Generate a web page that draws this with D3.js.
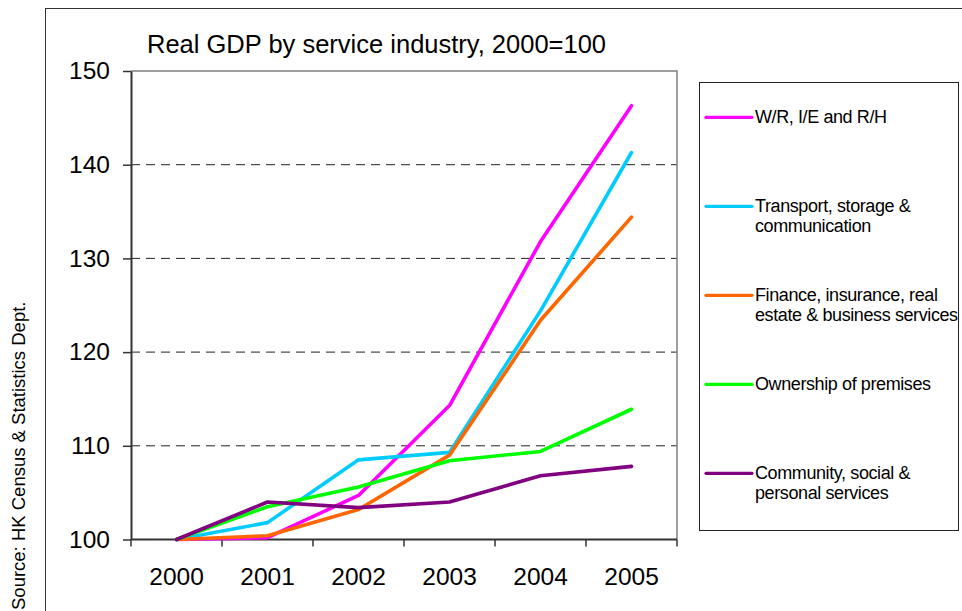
<!DOCTYPE html>
<html>
<head>
<meta charset="utf-8">
<script src="https://cdn.jsdelivr.net/npm/d3@7"></script>
<style>
  html, body { margin: 0; padding: 0; background: #fff; }
  svg { display: block; font-family: "Liberation Sans", Arial, sans-serif; }
</style>
</head>
<body>
<svg id="chart" width="962" height="611"></svg>
<script>
// Real GDP index by service industry, 2000 = 100
const years = ["2000", "2001", "2002", "2003", "2004", "2005"];
const seriesNames = [
  ["W/R, I/E and R/H"],
  ["Transport, storage &", "communication"],
  ["Finance, insurance, real", "estate & business services"],
  ["Ownership of premises"],
  ["Community, social &", "personal services"]
];
const wrIeRh      = [100, 100.2, 104.7, 114.3, 131.8, 146.3];
const transport   = [100, 101.8, 108.5, 109.3, 124.4, 141.3];
const finance     = [100, 100.4, 103.2, 109.0, 123.4, 134.4];
const ownership   = [100, 103.5, 105.6, 108.4, 109.4, 113.9];
const community   = [100, 104.0, 103.4, 104.0, 106.8, 107.8];
const seriesValues = [wrIeRh, transport, finance, ownership, community];
const seriesColors = ["#ff00ff", "#00ccff", "#ff6600", "#00ff00", "#800080"];
const yTicks = [100, 110, 120, 130, 140, 150];
const gridValues = [110, 120, 130, 140];

const svg = d3.select("#chart");
const plot = { left: 131, right: 677, top: 71, bottom: 539.5 };

// outer frame
svg.append("rect")
  .attr("x", 45.5).attr("y", 8.5)
  .attr("width", 1000).attr("height", 700)
  .attr("fill", "none").attr("stroke", "#333").attr("stroke-width", 1);

const x = d3.scaleBand().domain(years).range([plot.left, plot.right]).padding(0);
const y = d3.scaleLinear().domain([100, 150]).range([plot.bottom, plot.top]);

// gridlines
svg.append("g").selectAll("line").data(gridValues).join("line")
  .attr("x1", plot.left).attr("x2", plot.right)
  .attr("y1", d => y(d)).attr("y2", d => y(d))
  .attr("stroke", "#222").attr("stroke-width", 1)
  .attr("stroke-dasharray", "9,6");

// plot area top and right border
svg.append("path")
  .attr("d", `M${plot.left},${y(150)}H${plot.right}V${plot.bottom}`)
  .attr("fill", "none").attr("stroke", "#808080").attr("stroke-width", 1.5);

// y axis
const yAxis = svg.append("g")
  .attr("transform", `translate(${plot.left},0)`)
  .call(d3.axisLeft(y).tickValues(yTicks).tickSize(8).tickPadding(13).tickSizeOuter(0));
yAxis.select(".domain").attr("stroke", "#333").attr("stroke-width", 2);
yAxis.selectAll(".tick line").attr("stroke", "#333").attr("stroke-width", 1.5);
yAxis.selectAll("text").attr("font-size", "24.5px").attr("fill", "#000")
  .attr("font-family", "Liberation Sans, Arial, sans-serif");

// x axis labels
const xAxis = svg.append("g")
  .attr("transform", `translate(0,${plot.bottom})`)
  .call(d3.axisBottom(x).tickSize(0).tickPadding(28).tickSizeOuter(0));
xAxis.select(".domain").remove();
xAxis.selectAll("text").attr("font-size", "24.5px").attr("fill", "#000")
  .attr("font-family", "Liberation Sans, Arial, sans-serif");

// x axis line and category boundary ticks
svg.append("line")
  .attr("x1", plot.left).attr("x2", plot.right)
  .attr("y1", plot.bottom).attr("y2", plot.bottom)
  .attr("stroke", "#333").attr("stroke-width", 2);
const boundaries = years.map(d => x(d)).concat([x.range()[1]]);
svg.append("g").selectAll("line").data(boundaries).join("line")
  .attr("x1", d => d).attr("x2", d => d)
  .attr("y1", plot.bottom).attr("y2", plot.bottom + 7)
  .attr("stroke", "#333").attr("stroke-width", 1.5);

// series lines
const line = d3.line()
  .x((d, i) => x(years[i]) + x.bandwidth() / 2)
  .y(d => y(d));
svg.append("g").selectAll("path").data(seriesValues).join("path")
  .attr("d", line)
  .attr("fill", "none")
  .attr("stroke", (d, i) => seriesColors[i])
  .attr("stroke-width", 3.6)
  .attr("stroke-linejoin", "round")
  .attr("stroke-linecap", "round");

// title
svg.append("text")
  .attr("x", 147).attr("y", 53)
  .attr("font-size", "25.5px").attr("fill", "#000")
  .text("Real GDP by service industry, 2000=100");

// legend
svg.append("rect")
  .attr("x", 699.5).attr("y", 82.5)
  .attr("width", 259).attr("height", 448)
  .attr("fill", "#fff").attr("stroke", "#222").attr("stroke-width", 1);
const legendY = d3.scalePoint().domain(d3.range(seriesNames.length)).range([117.3, 473.3]);
const entries = svg.append("g").selectAll("g").data(seriesNames).join("g")
  .attr("transform", (d, i) => `translate(0,${legendY(i)})`);
entries.append("line")
  .attr("x1", 706).attr("x2", 752)
  .attr("stroke", (d, i) => seriesColors[i])
  .attr("stroke-width", 3.2)
  .attr("stroke-linecap", "round");
entries.append("text")
  .attr("font-size", "18px").attr("letter-spacing", "-0.4px").attr("fill", "#000")
  .selectAll("tspan").data(d => d).join("tspan")
  .attr("x", 755)
  .attr("y", (d, j) => 6 + j * 20)
  .text(d => d);

// source note
svg.append("text")
  .attr("transform", "translate(25,610) rotate(-90)")
  .attr("font-size", "18.5px").attr("fill", "#000")
  .text("Source: HK Census & Statistics Dept.");
</script>
</body>
</html>
